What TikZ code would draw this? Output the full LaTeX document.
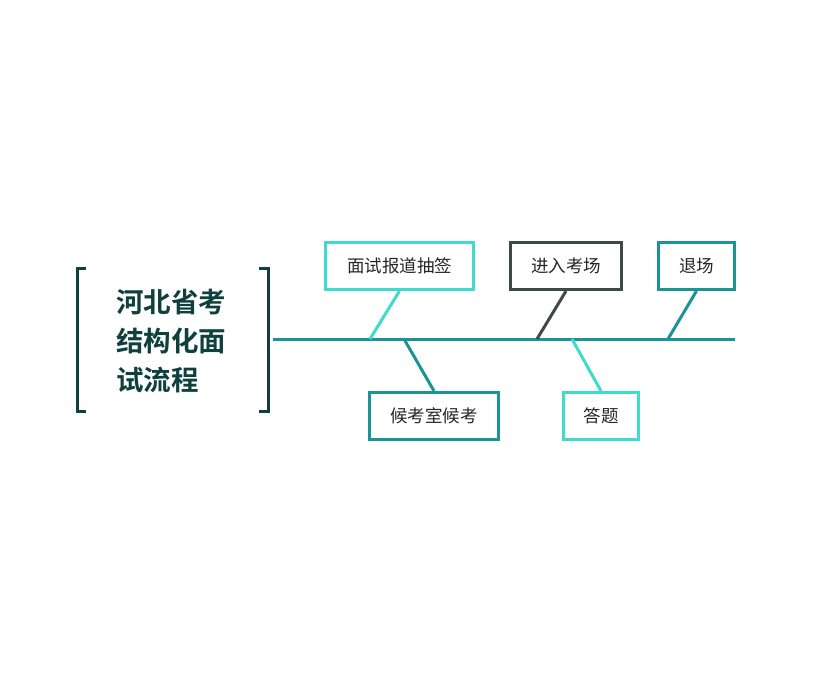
\documentclass[tikz,border=0pt]{standalone}
\usepackage{fontspec}
\newfontfamily\cjk{Noto Sans CJK SC}
\newfontfamily\cjkb{Noto Sans CJK SC Bold}
\definecolor{lt}{HTML}{3EDCCB}
\definecolor{dt}{HTML}{1A9494}
\definecolor{dg}{HTML}{3E4A48}
\definecolor{tt}{HTML}{0F403D}
\begin{document}
\begin{tikzpicture}[x=1pt,y=-1pt,
 bx/.style={draw=#1,line width=3pt,fill=white,font=\cjk\fontsize{17.5}{19}\selectfont,text=black!85,inner sep=0,anchor=north west},
 ln/.style={line width=3pt}]
\useasboundingbox (0,0) rectangle (814,693);
\draw[tt,line width=3pt] (86,268)--(77,268)--(77,411)--(86,411);
\draw[tt,line width=3pt] (259,268)--(268,268)--(268,411)--(259,411);
\node[font=\cjkb\fontsize{27.5}{39}\selectfont,text=tt,align=left] (t) at (171,341) {河北省考\\结构化面\\试流程};
\coordinate (s0) at (273,339); \coordinate (s1) at (735,339);
\draw[dt,ln] (s0)--(s1);
\node[bx=lt,minimum width=148,minimum height=47] (a) at (324,241) {面试报道抽签};
\node[bx=dg,minimum width=111,minimum height=47] (b) at (509,241) {进入考场};
\node[bx=dt,minimum width=76,minimum height=47] (c) at (657,241) {退场};
\node[bx=dt,minimum width=129,minimum height=47] (d) at (368,391) {候考室候考};
\node[bx=lt,minimum width=75,minimum height=47] (e) at (562,391) {答题};
\coordinate (pa) at (370,339); \coordinate (pb) at (537,339); \coordinate (pc) at (668,339);
\coordinate (pd) at (404,339); \coordinate (pe) at (572,339);
\draw[lt,ln] (a.south) -- (pa);
\draw[dg,ln] (b.south) -- (pb);
\draw[dt,ln] (c.south) -- (pc);
\draw[dt,ln] (pd) -- (d.north);
\draw[lt,ln] (pe) -- (e.north);
\end{tikzpicture}
\end{document}
